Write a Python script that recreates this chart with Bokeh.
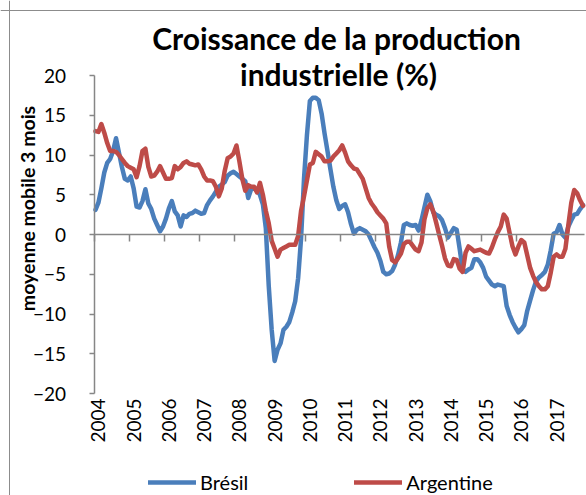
import math
from bokeh.plotting import figure
from bokeh.models import (Range1d, Span, Label, Legend, LegendItem, FixedTicker,
                          CustomJSTickFormatter, ColumnDataSource, LinearAxis)
from bokeh.embed import file_html
from bokeh.resources import INLINE

# ---- data (monthly, 3-month moving average, % growth), Jan 2004 onwards ----
start_year = 2004
bresil = [
    3.1, 4.0, 5.8, 7.8, 9.0, 9.5, 10.5, 12.1, 10.3, 8.5, 7.0, 6.8,      # 2004
    7.3, 5.8, 3.5, 3.4, 4.2, 5.7, 3.9, 3.2, 2.0, 1.2, 0.4, 1.0,         # 2005
    2.0, 3.3, 4.2, 2.9, 2.4, 1.0, 2.4, 2.2, 2.6, 2.7, 3.0, 2.8,         # 2006
    2.6, 2.7, 3.7, 4.3, 4.8, 5.4, 6.0, 6.3, 6.6, 7.4, 7.7, 7.9,         # 2007
    7.6, 7.3, 7.0, 6.7, 4.6, 5.7, 5.8, 5.5, 5.0, 3.8, 0.8, -6.5,        # 2008
    -12.0, -15.9, -14.5, -13.7, -12.0, -11.6, -11.0, -9.8, -8.4, -5.5, -0.5, 7.0,  # 2009
    12.5, 16.8, 17.2, 17.2, 16.9, 15.2, 12.7, 10.5, 8.2, 6.0, 4.3, 3.2,  # 2010
    3.6, 3.8, 2.8, 1.3, 0.1, 0.6, 0.8, 0.6, 0.4, 0.0, -0.8, -1.6,       # 2011
    -2.3, -3.3, -4.7, -5.0, -4.9, -4.6, -3.8, -2.6, -1.0, 1.2, 1.4, 1.2,  # 2012
    1.1, 1.2, 0.5, 1.8, 3.4, 5.0, 4.2, 2.8, 2.5, 2.3, 1.8, 0.8,         # 2013
    -0.4, 0.2, 0.8, 0.6, -1.8, -4.4, -4.7, -4.4, -4.2, -3.1, -3.1, -3.5,  # 2014
    -4.2, -5.3, -5.8, -6.3, -6.5, -6.3, -6.4, -6.5, -9.0, -10.1, -11.0, -11.7,  # 2015
    -12.3, -11.9, -11.4, -9.6, -8.3, -7.0, -5.9, -5.4, -5.1, -4.7, -3.8, -2.0,  # 2016
    0.1, 0.3, 1.2, 0.0, -0.4, 1.0, 1.8, 2.5, 2.6, 3.2, 3.7,             # 2017
]
argentine = [
    13.0, 12.9, 13.9, 12.8, 11.5, 10.5, 10.5, 10.4, 10.0, 9.5, 9.0, 8.6,  # 2004
    8.4, 8.2, 7.2, 8.6, 10.5, 10.8, 8.5, 7.3, 7.4, 7.9, 8.6, 7.8,       # 2005
    7.0, 7.0, 7.1, 8.6, 8.2, 8.5, 9.0, 9.2, 8.9, 8.8, 8.7, 8.8,         # 2006
    8.2, 7.3, 6.8, 6.8, 6.7, 6.0, 4.8, 5.8, 8.0, 9.6, 9.8, 10.2,        # 2007
    11.2, 9.2, 7.0, 5.5, 6.2, 6.0, 6.0, 5.3, 6.5, 5.0, 3.0, 1.4,        # 2008
    -0.8, -1.8, -2.8, -1.9, -1.7, -1.5, -1.3, -1.3, -1.3, -0.2, 3.0, 4.8,  # 2009
    6.8, 8.8, 9.0, 10.4, 10.1, 9.8, 9.2, 9.2, 9.3, 9.8, 10.2, 10.6,     # 2010
    11.2, 10.3, 9.2, 8.7, 8.3, 8.2, 7.6, 7.0, 5.8, 4.6, 3.9, 3.4,       # 2011
    2.8, 2.4, 2.0, 1.4, -1.5, -3.2, -3.5, -3.0, -2.4, -1.2, -0.9, -0.9,  # 2012
    -1.4, -1.9, -2.1, -1.0, 1.9, 3.3, 3.8, 2.9, 1.5, 0.0, -1.4, -3.0,   # 2013
    -3.9, -4.0, -3.1, -3.2, -4.3, -4.7, -2.3, -1.5, -1.8, -2.1, -2.0, -1.9,  # 2014
    -2.1, -2.3, -2.4, -1.6, -0.6, 0.3, 1.0, 2.5, 2.0, 0.2, -1.5, -2.5,  # 2015
    -1.5, -0.7, -1.0, -2.6, -4.2, -5.2, -6.0, -6.5, -6.9, -6.9, -6.5, -4.8,  # 2016
    -2.8, -2.5, -2.8, -2.8, -1.8, 1.2, 4.0, 5.6, 5.2, 4.3, 3.6,         # 2017
]
years = list(range(2004, 2018))
y_ticks = [-20, -15, -10, -5, 0, 5, 10, 15, 20]
series_names = ["Brésil", "Argentine"]
title_lines = ["Croissance de la production", "industrielle (%)"]
y_label = "moyenne mobile 3 mois"

BLUE = "#4A7EBB"
RED = "#BE4B48"
GRAY = "#868686"
FONT = "Lato"

W, H = 586, 495
n = len(bresil)
x_end = start_year + n / 12.0
y_lo, y_hi = min(y_ticks), max(y_ticks)

# plot area placement on the canvas (pixels): left/right/top/bottom of the value area
PL, PR, PT, PB = 93.5, 584.0, 75.0, 393.0
xppu = (PR - PL) / (x_end - start_year)
yppu = (PB - PT) / (y_hi - y_lo)
x_range = Range1d(start_year - PL / xppu, x_end + (W - PR) / xppu)
y_range = Range1d(y_lo - (H - PB) / yppu, y_hi + PT / yppu)

xs = [start_year + (i + 0.5) / 12 for i in range(n)]
src = ColumnDataSource(dict(x=xs, br=bresil, ar=argentine))

p = figure(width=W, height=H, output_backend="svg", toolbar_location=None,
           x_range=x_range, y_range=y_range, x_axis_type=None, y_axis_type=None,
           min_border=0)
p.outline_line_color = None
p.background_fill_color = "white"
p.border_fill_color = "white"

# chart-area border (left and top edges, as in the original)
p.add_layout(Span(location=9, location_units="screen", dimension="height",
                  line_color="#8c8c8c", line_width=1))
p.add_layout(Span(location=H - 10, location_units="screen", dimension="width",
                  line_color="#8c8c8c", line_width=1))

# y axis
yax = LinearAxis(fixed_location=start_year, bounds=(y_lo, y_hi),
                 ticker=FixedTicker(ticks=y_ticks))
yax.axis_line_color = GRAY
yax.axis_line_width = 1.5
yax.major_tick_line_color = GRAY
yax.major_tick_line_width = 1.5
yax.major_tick_out = 5
yax.major_tick_in = 0
yax.minor_tick_line_color = None
yax.major_label_standoff = 23
yax.major_label_text_font = FONT
yax.major_label_text_font_size = "19px"
yax.major_label_text_color = "black"
p.add_layout(yax, "left")

# zero line axis with year boundary ticks
zax = LinearAxis(fixed_location=0, bounds=(start_year, x_end),
                 ticker=FixedTicker(ticks=years),
                 formatter=CustomJSTickFormatter(code="return '';"))
zax.axis_line_color = GRAY
zax.axis_line_width = 1.5
zax.major_tick_line_color = GRAY
zax.major_tick_line_width = 1.5
zax.major_tick_out = 7
zax.major_tick_in = 0
zax.minor_tick_line_color = None
p.add_layout(zax, "below")

# year labels at the bottom of the plot area
xax = LinearAxis(fixed_location=y_lo,
                 ticker=FixedTicker(ticks=[yr + 1.5 / 12 for yr in years]),
                 formatter=CustomJSTickFormatter(code="return Math.floor(tick).toString();"))
xax.axis_line_color = None
xax.major_tick_line_color = None
xax.minor_tick_line_color = None
xax.major_tick_out = 0
xax.major_tick_in = 0
xax.major_label_standoff = 5
xax.major_label_orientation = math.pi / 2
xax.major_label_text_font = FONT
xax.major_label_text_font_size = "19px"
xax.major_label_text_color = "black"
p.add_layout(xax, "below")

r_br = p.line("x", "br", source=src, line_color=BLUE, line_width=4.5,
              line_join="round", line_cap="round")
r_ar = p.line("x", "ar", source=src, line_color=RED, line_width=4.5,
              line_join="round", line_cap="round")

# title (two lines)
for txt, cx, cy in zip(title_lines, [336, 338], [37, 73]):
    p.add_layout(Label(x=cx, y=H - cy, x_units="screen", y_units="screen", text=txt,
                       text_align="center", text_baseline="middle", text_font=FONT,
                       text_font_style="bold", text_font_size="30px", text_color="black"))

# y axis title
p.add_layout(Label(x=27, y=H - 208, x_units="screen", y_units="screen", text=y_label,
                   angle=math.pi / 2, text_align="center", text_baseline="middle",
                   text_font=FONT, text_font_style="bold", text_font_size="19.5px",
                   text_color="black"))

legend = Legend(items=[LegendItem(label=series_names[0], renderers=[r_br]),
                       LegendItem(label=series_names[1], renderers=[r_ar])],
                orientation="horizontal", location=(148, 1),
                glyph_width=48, glyph_height=20, label_standoff=4, spacing=106,
                padding=0, margin=0, border_line_color=None,
                background_fill_alpha=0, label_text_font=FONT,
                label_text_font_size="20px", label_text_color="black")
p.add_layout(legend)

open("out.html", "w").write(file_html(p, INLINE))
